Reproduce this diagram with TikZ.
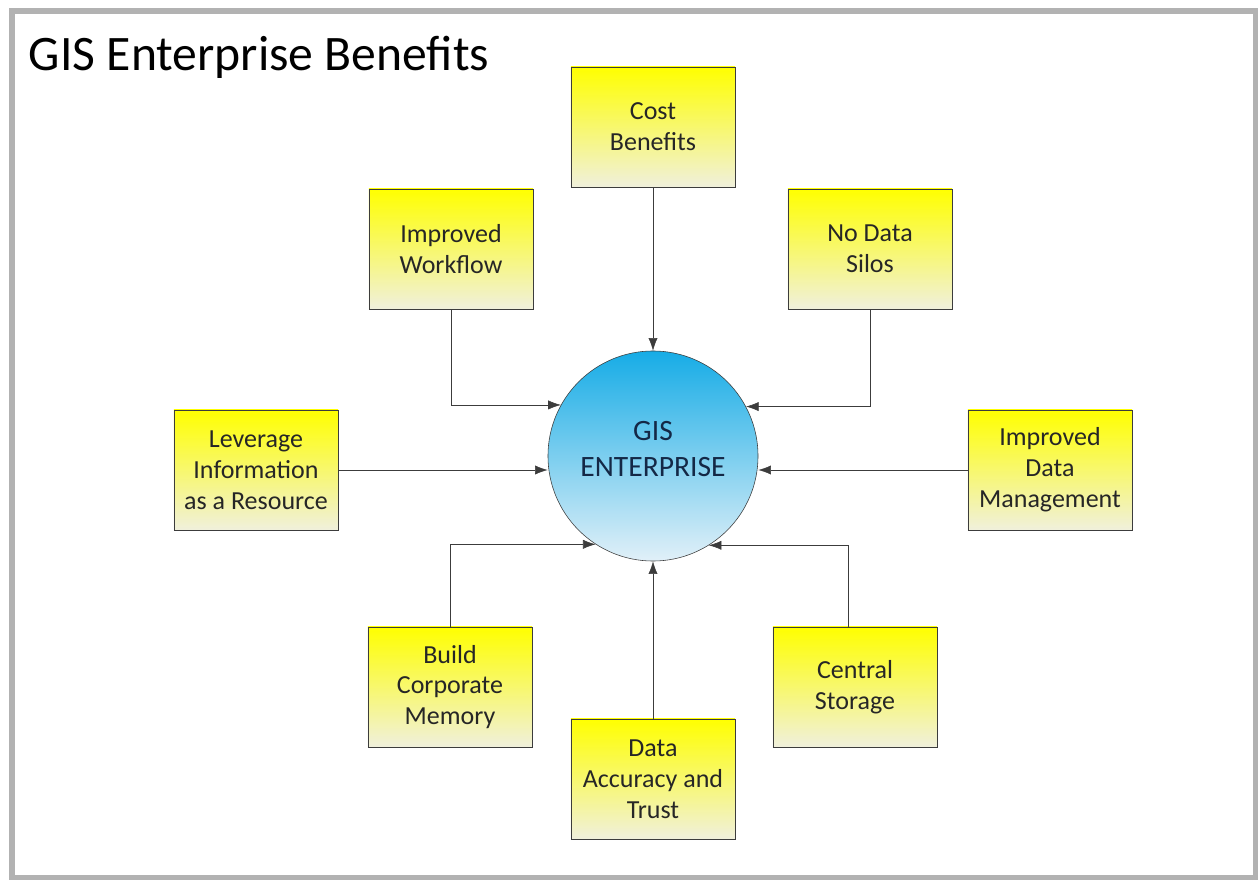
\documentclass[tikz,border=0pt]{standalone}
\usepackage{fontspec}
\setmainfont{Carlito}
\usetikzlibrary{arrows.meta,positioning,shapes}
\definecolor{boxtop}{RGB}{255,255,0}
\definecolor{boxbot}{RGB}{240,240,220}
\definecolor{balltop}{RGB}{22,172,230}
\definecolor{ballbot}{RGB}{225,240,248}
\definecolor{frame}{RGB}{178,178,178}
\definecolor{line}{RGB}{60,60,60}
\definecolor{navy}{RGB}{20,40,70}

\begin{document}
\begin{tikzpicture}[x=0.025cm,y=-0.025cm]
\tikzstyle{benefit}=[draw=line,rectangle,top color=boxtop,bottom color=boxbot,
  minimum width=4.1cm,minimum height=3cm,align=center,text=black!85,
  font=\fontsize{18.5}{22}\selectfont]
\tikzstyle{hub}=[draw=line,circle,top color=balltop,bottom color=ballbot,
  minimum size=5.25cm]
\tikzstyle{arrow}=[line,thin,-{Latex[length=9pt,width=6.5pt]}]
\useasboundingbox (0,0) rectangle (1258,880);
\draw [frame,line width=4.5pt] (12,11) rectangle (1256,878);
\node [anchor=base west,font=\fontsize{35.3}{40}\selectfont] at (24,71) (title) {GIS Enterprise Benefits};
% hub and the benefits round it
\node [hub] at (653,456) (gis) {};
\node [align=center,text=navy,font=\fontsize{21}{25}\selectfont] at (653,449) (gistext) {GIS\\ENTERPRISE};
\node [benefit] at (653,127) (cost) {Cost\\Benefits};
\node [benefit] at (451,249) (wf) {Improved\\Workflow};
\node [benefit] at (870,249) (silo) {No Data\\Silos};
\node [benefit] at (256,470) (lev) {Leverage\\Information\\as a Resource};
\node [benefit] at (1050,470) (dm) {Improved\\Data\\Management};
\node [benefit] at (450,687) (mem) {Build\\Corporate\\Memory};
\node [benefit] at (855,687) (store) {Central\\Storage};
\node [benefit] at (653,779) (acc) {Data\\Accuracy and\\Trust};
% connectors
\draw [arrow] (cost) -- (gis);
\draw [arrow] (wf.south) |- (gis.151.6);
\draw [arrow] (silo.south) |- (gis.28.4);
\draw [arrow] (lev.east) -- (lev.east -| gis.west);
\draw [arrow] (dm.west) -- (dm.west -| gis.east);
\draw [arrow] (mem.north) |- (gis.237.9);
\draw [arrow] ([xshift=-0.175cm]store.north) |- (gis.302.1);
\draw [arrow] (acc) -- (gis);
\end{tikzpicture}
\end{document}
